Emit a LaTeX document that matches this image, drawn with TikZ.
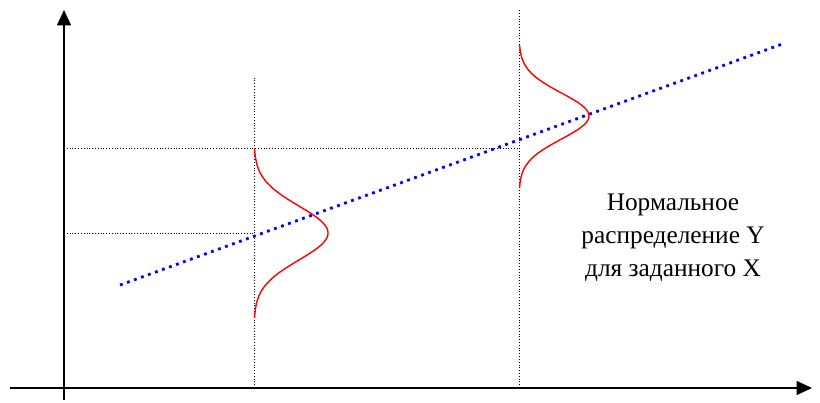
\documentclass[tikz,border=0pt]{standalone}
\usepackage{fontspec}
\setmainfont{Liberation Serif}
\usetikzlibrary{arrows.meta}

\begin{document}
\begin{tikzpicture}[x=0.025cm,y=-0.025cm,>={Triangle[length=11pt,width=10pt]},
  guide/.style={black,line width=0.5pt,dash pattern=on 0.7pt off 1.3pt},
  fitline/.style={blue,line width=2pt,dash pattern=on 2pt off 3.3pt},
  density/.style={red,line width=1pt,line join=round}]
\useasboundingbox (0,0) rectangle (820,402);
% axes
\coordinate (o) at (64,388);
\draw[line width=1pt,->] (64,400) -- (64,10);
\draw[line width=1pt,->] (10,388) -- (812,388);
% guide lines
\draw[guide] (254,388) -- (254,78);
\draw[guide] (519,388) -- (519,10);
\draw[guide] (64,148) -- (519,148);
\draw[guide] (64,233) -- (254,233);
% regression line
\draw[fitline] (120,285) -- (785,43);
% conditional densities
\draw[density] plot[domain=148:318,samples=90,smooth] ({254+74*exp(-((\x-233)*(\x-233))/(2*27*27))},\x);
\draw[density] plot[domain=45:188,samples=80,smooth] ({519+70*exp(-((\x-116)*(\x-116))/(2*23*23))},\x);
% label
\node[align=center,font=\fontsize{18}{23.4}\selectfont] (lbl) at (673,238) {Нормальное\\распределение Y\\для заданного X};
\end{tikzpicture}
\end{document}
